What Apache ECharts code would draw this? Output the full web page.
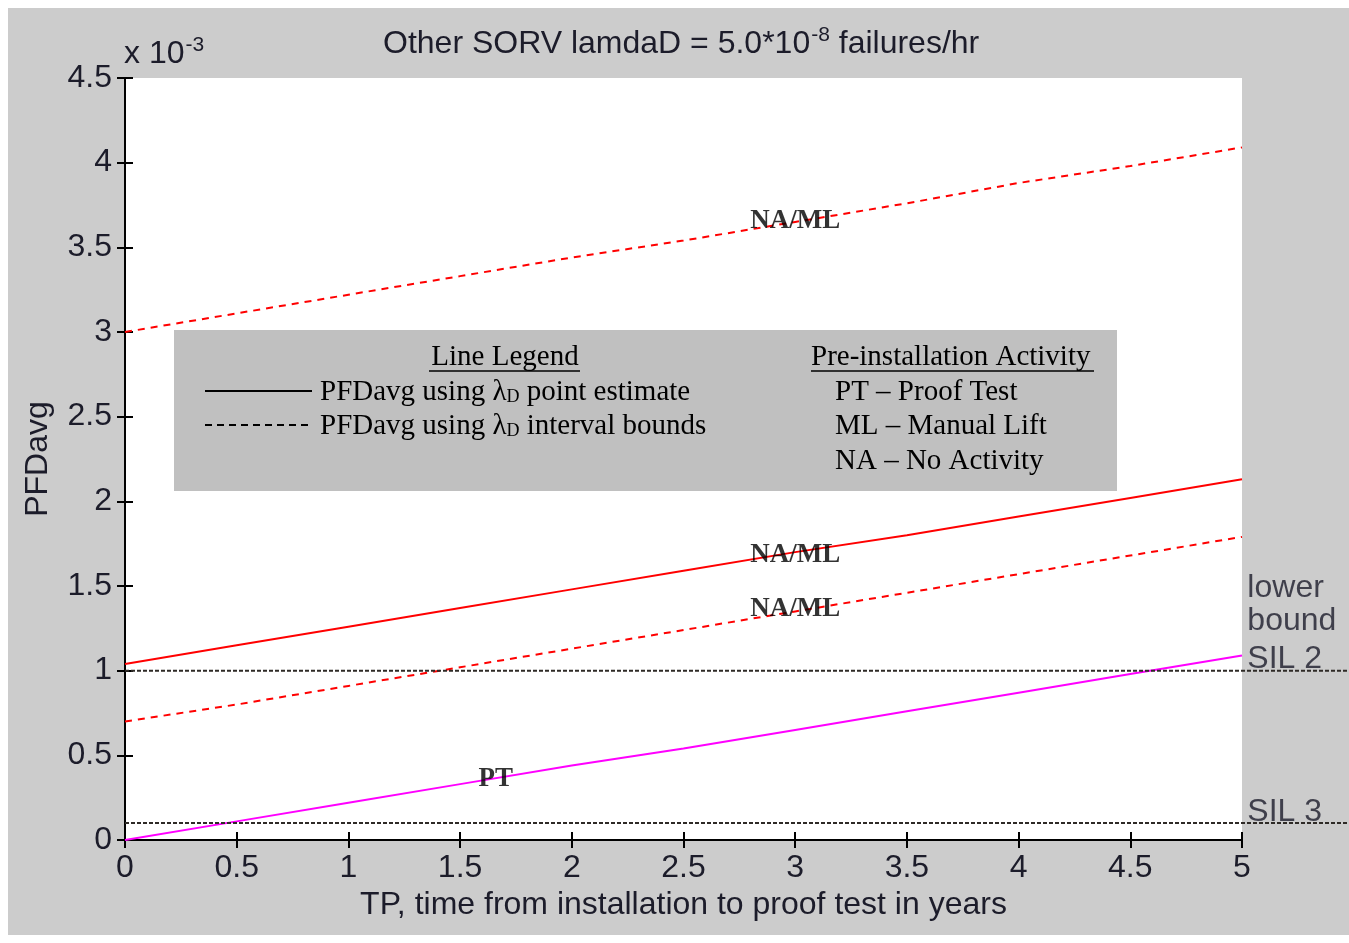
<!DOCTYPE html>
<html>
<head>
<meta charset="utf-8">
<script src="https://cdn.jsdelivr.net/npm/echarts@6/dist/echarts.min.js"></script>
<style>
html,body{margin:0;padding:0;background:#ffffff;}
#chart{width:1349px;height:943px;}
</style>
</head>
<body>
<div id="chart"></div>
<script>
// ---- data (PFDavg in units of 1e-3) ----
const tp = [0, 0.5, 1, 1.5, 2, 2.5, 3, 3.5, 4, 4.5, 5];
const naMlUpperDashed = [3.00, 3.11, 3.22, 3.33, 3.44, 3.54, 3.65, 3.76, 3.88, 3.98, 4.09];
const naMlPoint      = [1.04, 1.15, 1.26, 1.37, 1.48, 1.59, 1.70, 1.80, 1.91, 2.02, 2.13];
const naMlLowerDashed = [0.70, 0.80, 0.91, 1.02, 1.13, 1.24, 1.35, 1.46, 1.57, 1.68, 1.79];
const ptPoint        = [0.00, 0.11, 0.22, 0.33, 0.44, 0.54, 0.65, 0.76, 0.87, 0.98, 1.09];
const silLevels = [1.0, 0.1];
const silLineEndX = 5.48;
const curveLabels = [
  {text: 'NA/ML', x: 3.0, y: 3.656},
  {text: 'NA/ML', x: 3.0, y: 1.683},
  {text: 'NA/ML', x: 3.0, y: 1.364},
  {text: 'PT', x: 1.66, y: 0.36}
];
const sideLabels = [
  {text: 'lower', x: 5.025, y: 1.49},
  {text: 'bound', x: 5.025, y: 1.295},
  {text: 'SIL 2', x: 5.025, y: 1.065},
  {text: 'SIL 3', x: 5.025, y: 0.165}
];
const xTicks = {min: 0, max: 5, interval: 0.5};
const yTicks = {min: 0, max: 4.5, interval: 0.5};

function pairs(xs, ys){ return xs.map((x,i)=>[x, ys[i]]); }

const chart = echarts.init(document.getElementById('chart'));
const sans = 'Liberation Sans, Arial, sans-serif';
const serif = 'Liberation Serif, Times New Roman, serif';
const txtCol = '#1c1c2a';
const FS = 32;

const axisCommon = {
  type: 'value',
  axisLine: {show: true, lineStyle: {color: '#000', width: 2}},
  axisTick: {show: true, inside: true, length: 8, lineStyle: {color: '#000', width: 2}},
  splitLine: {show: false}
};

const option = {
  backgroundColor: '#ffffff',
  animation: false,
  title: {
    text: '{a|Other SORV lamdaD = 5.0*10}{s|-8}{a| failures/hr}',
    left: 378, top: 20,
    textStyle: {
      rich: {
        a: {fontFamily: sans, fontSize: FS, fontWeight: 'normal', color: txtCol},
        s: {fontFamily: sans, fontSize: 21, fontWeight: 'normal', color: txtCol, padding: [0,0,17,1]}
      }
    }
  },
  grid: [
    {left: 125, right: 107, top: 78, bottom: 103, containLabel: false},
    {left: 125, right: 0, top: 78, bottom: 103, containLabel: false}
  ],
  xAxis: [
    Object.assign({}, axisCommon, {
      gridIndex: 0, position: 'bottom', min: xTicks.min, max: xTicks.max, interval: xTicks.interval,
      name: 'TP, time from installation to proof test in years',
      nameLocation: 'middle', nameGap: 48,
      nameTextStyle: {fontFamily: sans, fontSize: FS, color: txtCol},
      axisLabel: {fontFamily: sans, fontSize: FS, color: txtCol, margin: 12,
        formatter: v => String(v)}
    }),
    Object.assign({}, axisCommon, {
      gridIndex: 0, position: 'top', min: xTicks.min, max: xTicks.max, interval: xTicks.interval,
      axisLabel: {show: false}
    }),
    {type: 'value', gridIndex: 1, min: 0, max: silLineEndX, show: false}
  ],
  yAxis: [
    Object.assign({}, axisCommon, {
      gridIndex: 0, position: 'left', min: yTicks.min, max: yTicks.max, interval: yTicks.interval,
      name: 'PFDavg', nameLocation: 'middle', nameGap: 71,
      nameTextStyle: {fontFamily: sans, fontSize: FS, color: txtCol},
      axisLabel: {fontFamily: sans, fontSize: FS, color: txtCol, margin: 13,
        formatter: v => String(v)}
    }),
    Object.assign({}, axisCommon, {
      gridIndex: 0, position: 'right', min: yTicks.min, max: yTicks.max, interval: yTicks.interval,
      axisLabel: {show: false}
    }),
    {type: 'value', gridIndex: 1, min: yTicks.min, max: yTicks.max, show: false}
  ],
  graphic: [
    {type: 'rect', z: -10, silent: true,
     shape: {x: 8, y: 8, width: 1341, height: 927}, style: {fill: '#cccccc'}},
    {type: 'rect', z: -9, silent: true,
     shape: {x: 125, y: 78, width: 1117, height: 762}, style: {fill: '#ffffff'}},
    {type: 'text', left: 124, top: 35, z: 10,
     style: {text: '{a|x 10}{s|-3}', rich: {
       a: {fontFamily: sans, fontSize: FS, fill: txtCol},
       s: {fontFamily: sans, fontSize: 21, fill: txtCol, padding: [0,0,17,1]}
     }}},
    // legend box
    {type: 'rect', z: 50, shape: {x: 174, y: 330, width: 943, height: 161}, style: {fill: '#c0c0c0'}},
    {type: 'text', z: 51, x: 505, y: 357, style: {text: 'Line Legend', fontFamily: serif, fontSize: 29,
      fill: '#000', textAlign: 'center', textVerticalAlign: 'middle'}},
    {type: 'line', z: 51, shape: {x1: 429, y1: 371, x2: 580, y2: 371}, style: {stroke: '#000', lineWidth: 1.5}},
    {type: 'line', z: 51, shape: {x1: 205, y1: 391, x2: 312, y2: 391}, style: {stroke: '#000', lineWidth: 2}},
    {type: 'line', z: 51, shape: {x1: 205, y1: 425, x2: 312, y2: 425}, style: {stroke: '#000', lineWidth: 2, lineDash: [7,5]}},
    {type: 'text', z: 51, x: 320, y: 392, style: {
      text: '{t|PFDavg using λ}{s|D}{t| point estimate}', textVerticalAlign: 'middle',
      rich: {t: {fontFamily: serif, fontSize: 29, fill: '#000'},
             s: {fontFamily: serif, fontSize: 18, fill: '#000', padding: [10,0,0,0]}}}},
    {type: 'text', z: 51, x: 320, y: 426, style: {
      text: '{t|PFDavg using λ}{s|D}{t| interval bounds}', textVerticalAlign: 'middle',
      rich: {t: {fontFamily: serif, fontSize: 29, fill: '#000'},
             s: {fontFamily: serif, fontSize: 18, fill: '#000', padding: [10,0,0,0]}}}},
    {type: 'text', z: 51, x: 811, y: 357, style: {text: 'Pre-installation Activity', fontFamily: serif, fontSize: 29,
      fill: '#000', textVerticalAlign: 'middle'}},
    {type: 'line', z: 51, shape: {x1: 811, y1: 371, x2: 1094, y2: 371}, style: {stroke: '#000', lineWidth: 1.5}},
    {type: 'text', z: 51, x: 835, y: 392, style: {text: 'PT – Proof Test', fontFamily: serif, fontSize: 29, fill: '#000', textVerticalAlign: 'middle'}},
    {type: 'text', z: 51, x: 835, y: 426, style: {text: 'ML – Manual Lift', fontFamily: serif, fontSize: 29, fill: '#000', textVerticalAlign: 'middle'}},
    {type: 'text', z: 51, x: 835, y: 461, style: {text: 'NA – No Activity', fontFamily: serif, fontSize: 29, fill: '#000', textVerticalAlign: 'middle'}}
  ],
  series: [
    {type: 'line', name: 'NA/ML upper', data: pairs(tp, naMlUpperDashed), symbol: 'none',
     lineStyle: {color: '#ff0000', width: 2, type: [7,6]}, z: 5},
    {type: 'line', name: 'NA/ML point', data: pairs(tp, naMlPoint), symbol: 'none',
     lineStyle: {color: '#ff0000', width: 2}, z: 5},
    {type: 'line', name: 'NA/ML lower', data: pairs(tp, naMlLowerDashed), symbol: 'none',
     lineStyle: {color: '#ff0000', width: 2, type: [7,6]}, z: 5},
    {type: 'line', name: 'PT point', data: pairs(tp, ptPoint), symbol: 'none',
     lineStyle: {color: '#ff00ff', width: 2}, z: 5},
  ].concat(silLevels.map(v => ({
     type: 'line', xAxisIndex: 2, yAxisIndex: 2,
     data: [[0, v], [silLineEndX, v]], symbol: 'none',
     lineStyle: {color: '#2e2a26', width: 2, type: [4,2]}, z: 6
  }))).concat([
    {type: 'scatter', data: curveLabels.map(d => ({value: [d.x, d.y], name: d.text})),
     symbolSize: 0, z: 20,
     label: {show: true, position: 'inside', formatter: p => p.name,
       fontFamily: serif, fontWeight: 'bold', fontSize: 27, color: '#000'}},
    {type: 'scatter', xAxisIndex: 2, yAxisIndex: 2,
     data: sideLabels.map(d => ({value: [d.x, d.y], name: d.text})),
     symbolSize: 0, z: 20,
     label: {show: true, position: 'inside', align: 'left', formatter: p => p.name,
       fontFamily: sans, fontSize: FS, color: txtCol}}
  ])
};
chart.setOption(option);
</script>
</body>
</html>
